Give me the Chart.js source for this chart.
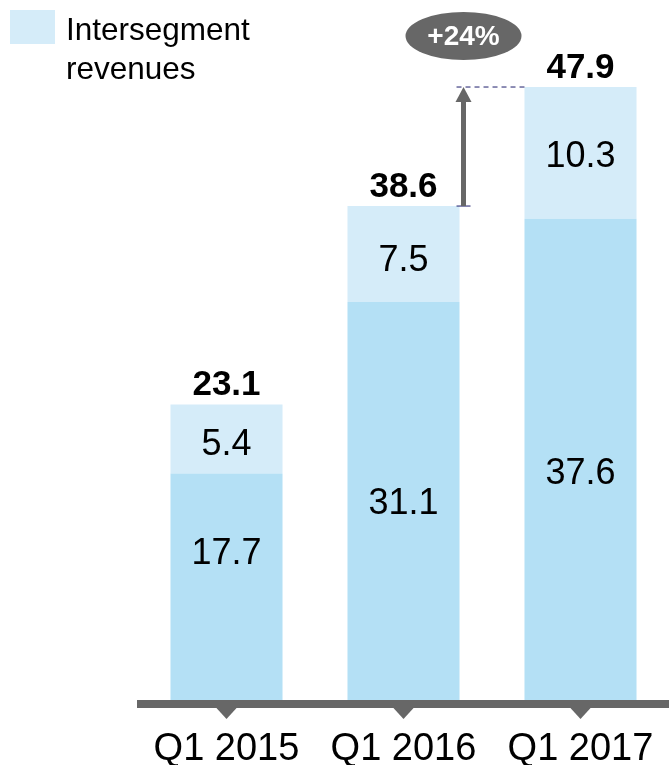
<!DOCTYPE html>
<html>
<head>
    <title>Revenues Q1</title>
    <script src="https://cdn.jsdelivr.net/npm/chart.js"></script>
    <style>
        body { margin: 0; background: #fff; }
        .wrap { width: 669px; height: 765px; }
    </style>
</head>
<body>
    <div class="wrap"><canvas id="chart"></canvas></div>
    <script>
        // data
        const quarters = ['Q1 2015', 'Q1 2016', 'Q1 2017'];
        const baseValues = [17.7, 31.1, 37.6];
        const intersegment = [5.4, 7.5, 10.3];
        const totals = [23.1, 38.6, 47.9];
        const growthLabel = '+24%';
        const legendLines = ['Intersegment', 'revenues'];

        const FONT = '"Liberation Sans", Arial, sans-serif';
        const GREY = '#676767';
        // the slide places the inner labels a bit off-centre
        const labelNudge = [[-33, 3, 15], [6, 7, 4]];

        const decorations = {
            id: 'decorations',
            afterDatasetsDraw(chart) {
                const ctx = chart.ctx;
                const x = chart.scales.x, y = chart.scales.y;
                const area = chart.chartArea;
                ctx.save();

                // values inside bar segments
                ctx.fillStyle = '#000';
                ctx.textAlign = 'center';
                ctx.textBaseline = 'middle';
                ctx.font = '36px ' + FONT;
                chart.data.datasets.forEach((ds, di) => {
                    chart.getDatasetMeta(di).data.forEach((bar, i) => {
                        const mid = (bar.y + bar.base) / 2;
                        ctx.fillText(ds.data[i].toFixed(1), bar.x, mid + labelNudge[di][i]);
                    });
                });

                // totals
                ctx.font = 'bold 35px ' + FONT;
                ctx.textBaseline = 'alphabetic';
                totals.forEach((t, i) => {
                    ctx.fillText(t.toFixed(1), x.getPixelForValue(i), y.getPixelForValue(t) - 9);
                });

                // axis line + triangles
                ctx.fillStyle = GREY;
                ctx.fillRect(137, area.bottom, chart.width - 137, 8);
                quarters.forEach((q, i) => {
                    const cx = x.getPixelForValue(i);
                    ctx.beginPath();
                    ctx.moveTo(cx - 11, area.bottom + 7);
                    ctx.lineTo(cx + 11, area.bottom + 7);
                    ctx.lineTo(cx, area.bottom + 19);
                    ctx.closePath();
                    ctx.fill();
                });

                // category labels
                ctx.fillStyle = '#000';
                ctx.font = '38px ' + FONT;
                ctx.textBaseline = 'alphabetic';
                quarters.forEach((q, i) => {
                    ctx.fillText(q, x.getPixelForValue(i), 760);
                });

                // growth arrow between Q1 2016 and Q1 2017
                const bar2 = chart.getDatasetMeta(1).data[1];
                const bar3 = chart.getDatasetMeta(1).data[2];
                const ax = bar2.x + bar2.width / 2 + 4;
                const yFrom = y.getPixelForValue(totals[1]);
                const yTo = y.getPixelForValue(totals[2]);
                ctx.strokeStyle = '#1c1c6b';
                ctx.lineWidth = 1;
                ctx.setLineDash([5, 4]);
                ctx.beginPath();
                ctx.moveTo(ax - 7, yTo);
                ctx.lineTo(bar3.x - bar3.width / 2, yTo);
                ctx.stroke();
                ctx.setLineDash([]);
                ctx.beginPath();
                ctx.moveTo(ax - 7, yFrom);
                ctx.lineTo(ax + 7, yFrom);
                ctx.stroke();

                ctx.strokeStyle = GREY;
                ctx.fillStyle = GREY;
                ctx.lineWidth = 5;
                ctx.beginPath();
                ctx.moveTo(ax, yFrom);
                ctx.lineTo(ax, yTo + 14);
                ctx.stroke();
                ctx.beginPath();
                ctx.moveTo(ax - 8, yTo + 15);
                ctx.lineTo(ax + 8, yTo + 15);
                ctx.lineTo(ax, yTo);
                ctx.closePath();
                ctx.fill();

                // badge
                ctx.beginPath();
                ctx.ellipse(ax, 36, 58, 24, 0, 0, Math.PI * 2);
                ctx.fill();
                ctx.fillStyle = '#fff';
                ctx.font = 'bold 28px ' + FONT;
                ctx.textBaseline = 'middle';
                ctx.fillText(growthLabel, ax, 37);

                // legend
                ctx.fillStyle = '#d5ecf9';
                ctx.fillRect(10, 10, 45, 34);
                ctx.fillStyle = '#000';
                ctx.font = '31.5px ' + FONT;
                ctx.textAlign = 'left';
                ctx.textBaseline = 'alphabetic';
                ctx.fillText(legendLines[0], 66, 40);
                ctx.fillText(legendLines[1], 66, 79);

                ctx.restore();
            }
        };

        new Chart(document.getElementById('chart'), {
            type: 'bar',
            data: {
                labels: quarters,
                datasets: [{
                    label: 'Revenues',
                    data: baseValues,
                    backgroundColor: '#b4e0f5'
                }, {
                    label: 'Intersegment revenues',
                    data: intersegment,
                    backgroundColor: '#d5ecf9'
                }]
            },
            options: {
                responsive: true,
                maintainAspectRatio: false,
                animation: false,
                layout: { padding: { left: 138, right: 0, top: 0, bottom: 65 } },
                categoryPercentage: 0.633,
                barPercentage: 1,
                plugins: {
                    legend: { display: false },
                    tooltip: { enabled: false }
                },
                scales: {
                    x: { stacked: true, display: false },
                    y: { stacked: true, display: false, min: 0, max: 54.7 }
                }
            },
            plugins: [decorations]
        });
    </script>
</body>
</html>
